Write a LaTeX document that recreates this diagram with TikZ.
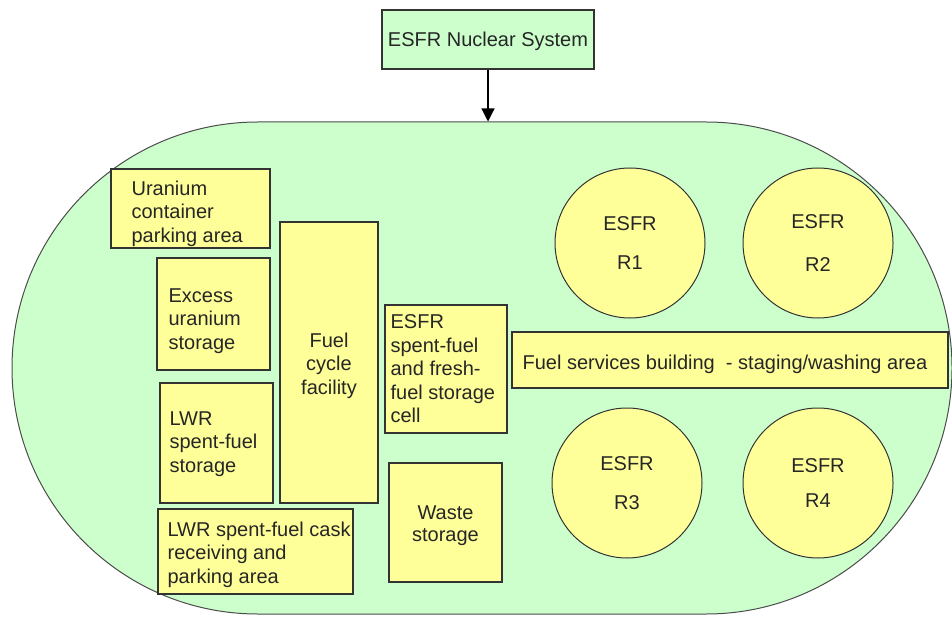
\documentclass[tikz,border=0pt]{standalone}
\usepackage{fontspec}
\setmainfont{Liberation Sans}
\usetikzlibrary{arrows.meta,shapes.misc}
\definecolor{siteg}{HTML}{CCFFCC}
\definecolor{boxy}{HTML}{FFFF99}
\definecolor{edgec}{HTML}{333333}
\begin{document}
\begin{tikzpicture}[x=1pt,y=-1pt,
  txt/.style={font=\fontsize{20}{23.5}\selectfont, text=black!85},
  ybox/.style={draw=edgec, line width=1.2pt, fill=boxy, inner sep=0pt},
  lbl/.style={txt, anchor=west, align=left, inner sep=0pt},
  clbl/.style={txt, align=center, inner sep=0pt},
  reactor/.style={circle, draw=edgec, line width=1pt, fill=boxy, minimum size=150pt, inner sep=0pt, txt, align=center}]
\useasboundingbox (0,0) rectangle (952,617);
% site outline
\node[rounded rectangle, draw=black!70, line width=1pt, fill=siteg,
      minimum width=940pt, minimum height=492pt, inner sep=0pt] (site) at (482,368) {};
% top system box
\node[draw=edgec, line width=1.2pt, fill=siteg, minimum width=212pt, minimum height=59pt,
      inner sep=0pt] (sys) at (488,39.5) {};
\node[clbl] (systxt) at ([yshift=-2pt]sys.center) {ESFR Nuclear System};
\draw[-{Triangle[width=13pt,length=13pt]}, line width=1.2pt] (sys.south) -- (sys.south |- site.north);
% boxes
\node[ybox, minimum width=159pt, minimum height=79pt] (ura) at (190.5,208.5) {};
\node[lbl] (uratxt) at ([xshift=21pt,yshift=-5pt]ura.west) {Uranium\\container\\parking area};
\node[ybox, minimum width=113pt, minimum height=112pt] (exc) at (213.5,314) {};
\node[lbl] (exctxt) at ([xshift=12pt,yshift=-7pt]exc.west) {Excess\\uranium\\storage};
\node[ybox, minimum width=113pt, minimum height=120pt] (lwr) at (216.5,443) {};
\node[lbl] (lwrtxt) at ([xshift=10pt,yshift=-1pt]lwr.west) {LWR\\spent-fuel\\storage};
\node[ybox, minimum width=98pt, minimum height=281pt] (fcf) at (329,362.5) {};
\node[clbl] (fcftxt) at ([yshift=-3pt]fcf.center) {Fuel\\cycle\\facility};
\node[ybox, minimum width=122pt, minimum height=128pt] (esc) at (446,369) {};
\node[lbl] (esctxt) at ([xshift=6pt]esc.west) {ESFR\\spent-fuel\\and fresh-\\fuel storage\\cell};
\node[ybox, minimum width=113pt, minimum height=119pt] (wst) at (445.5,522.5) {};
\node[clbl] (wsttxt) at ([yshift=-3pt]wst.center) {Waste\\[-1.5pt]storage};
\node[ybox, minimum width=195pt, minimum height=85pt] (cask) at (255.5,551.5) {};
\node[lbl] (casktxt) at ([xshift=10pt,yshift=-3pt]cask.west) {LWR spent-fuel cask\\receiving and\\parking area};
\node[ybox, minimum width=436pt, minimum height=56pt] (fsb) at (730,360) {};
\node[lbl] (fsbtxt) at ([xshift=11pt,yshift=-4pt]fsb.west) {Fuel services building\ \ - staging/washing area};
% reactors
\node[reactor] (r1) at (630,243) {ESFR\\[15pt]R1};
\node[reactor] (r2) at (818,243) {ESFR\\[19pt]R2};
\node[reactor] (r3) at (627,483) {ESFR\\[15pt]R3};
\node[reactor] (r4) at (818,483) {ESFR\\[12pt]R4};
\end{tikzpicture}
\end{document}
